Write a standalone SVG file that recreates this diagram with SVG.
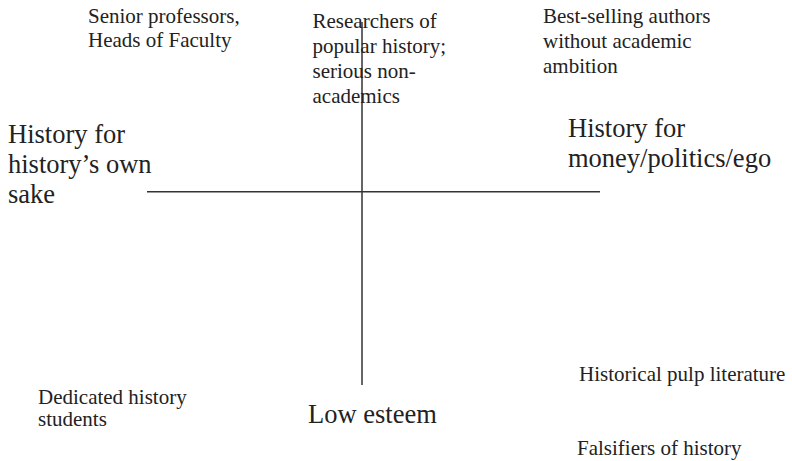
<svg xmlns="http://www.w3.org/2000/svg" width="792" height="461" viewBox="0 0 792 461">
<style>
.s{font-size:21px}
.b{font-size:26.5px}
.ax{stroke:#333;stroke-width:1.5;fill:none}
</style>
<rect width="792" height="461" fill="#fff"/>
<g id="connectors">
<line class="ax" x1="147" y1="191.7" x2="600" y2="191.7"/>
<line class="ax" x1="362" y1="22" x2="362" y2="385"/>
</g>
<g font-family="'Liberation Serif', 'Times New Roman', Times, serif" fill="#222">
<g id="senior"><text class="s" x="88" y="23">Senior professors,</text><text class="s" x="88" y="47">Heads of Faculty</text></g>
<g id="researchers"><text class="s" x="312.5" y="28">Researchers of</text><text class="s" x="312.5" y="53">popular history;</text><text class="s" x="312.5" y="78">serious non-</text><text class="s" x="312.5" y="103">academics</text></g>
<g id="bestselling"><text class="s" x="543" y="23">Best-selling authors</text><text class="s" x="543" y="48">without academic</text><text class="s" x="543" y="73">ambition</text></g>
<g id="left-axis"><text class="b" x="8" y="143">History for</text><text class="b" x="8" y="173">history’s own</text><text class="b" x="8" y="203">sake</text></g>
<g id="right-axis"><text class="b" x="568" y="137">History for</text><text class="b" x="568" y="167">money/politics/ego</text></g>
<g id="students"><text class="s" x="38" y="404">Dedicated history</text><text class="s" x="38" y="426">students</text></g>
<g id="low-esteem"><text class="b" x="308" y="423">Low esteem</text></g>
<g id="pulp"><text class="s" x="579" y="381">Historical pulp literature</text></g>
<g id="falsifiers"><text class="s" x="577" y="455">Falsifiers of history</text></g>
</g>
</svg>
